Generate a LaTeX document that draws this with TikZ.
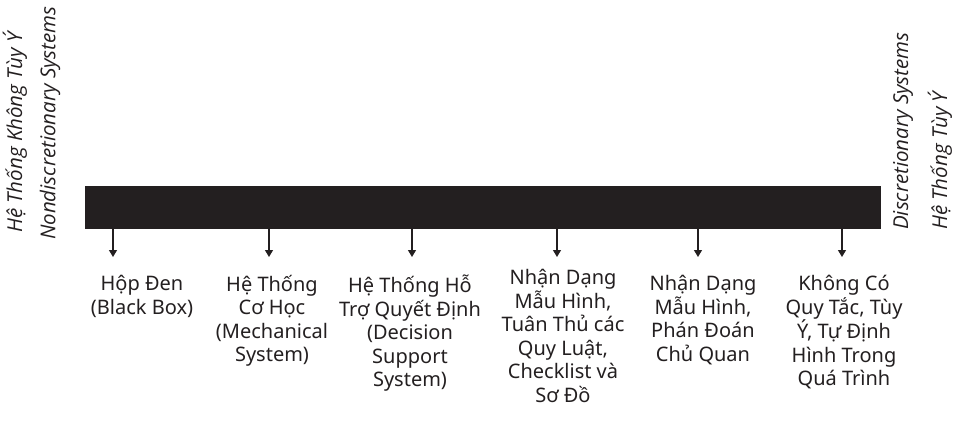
\documentclass[tikz,border=0pt]{standalone}
\usepackage{fontspec}
\setmainfont{Noto Sans}
\newfontfamily\sidefont{Open Sans}
\usetikzlibrary{arrows.meta}
\definecolor{barblack}{HTML}{231F20}

\begin{document}
\begin{tikzpicture}[x=1pt,y=-1pt,
  lbl/.style={align=center, anchor=north, inner sep=0pt, text=barblack,
    font=\fontsize{20}{23.5}\selectfont},
  sidelbl/.style={rotate=90, anchor=west, inner sep=0pt, text=barblack,
    font=\sidefont\itshape\fontsize{20.5}{24}\selectfont},
  pointer/.style={-{Triangle[length=7pt,width=8pt]}, line width=1.2pt, draw=barblack}]
  \useasboundingbox (0,0) rectangle (962,426);
  % the black bar
  \node[fill=barblack, minimum width=796pt, minimum height=43pt, inner sep=0pt,
    anchor=north west] (bar) at (85,186) {};
  % labels at both ends
  \node[sidelbl] (nondiscvn) at (15,233) {Hệ Thống Không Tùy Ý};
  \node[sidelbl] (nondisc) at (50,240) {Nondiscretionary Systems};
  \node[sidelbl] (disc) at (903,230) {Discretionary Systems};
  \node[sidelbl] (discvn) at (940,230) {Hệ Thống Tùy Ý};
  % labels under the bar
  \node[lbl] (blackbox) at (142,275) {Hộp Đen\\(Black Box)};
  \node[lbl] (mechanical) at (272,275) {Hệ Thống\\Cơ Học\\(Mechanical\\System)};
  \node[lbl] (decision) at (410,275) {Hệ Thống Hỗ\\Trợ Quyết Định\\(Decision\\Support\\System)};
  \node[lbl] (checklist) at (563,269) {Nhận Dạng\\Mẫu Hình,\\Tuân Thủ các\\Quy Luật,\\Checklist và\\Sơ Đồ};
  \node[lbl] (judgement) at (703,275) {Nhận Dạng\\Mẫu Hình,\\Phán Đoán\\Chủ Quan};
  \node[lbl] (norules) at (844,275) {Không Có\\Quy Tắc, Tùy\\Ý, Tự Định\\Hình Trong\\Quá Trình};
  \foreach \x/\name in {113/blackbox,269/mechanical,412/decision,557/checklist,698/judgement,842/norules} { %for each arrow under the bar
    \coordinate (tip-\name) at (\x,257);
    \draw[pointer] (bar.south -| tip-\name) -- (tip-\name);
  }
\end{tikzpicture}
\end{document}
